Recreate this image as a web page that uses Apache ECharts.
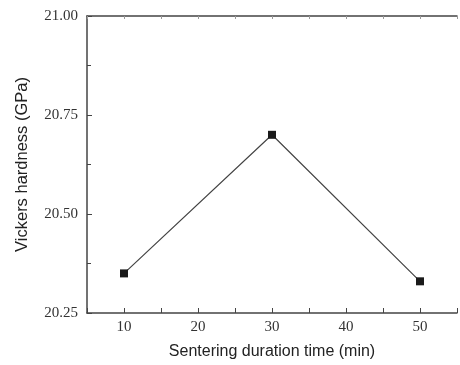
<!DOCTYPE html>
<html>
<head>
<meta charset="utf-8">
<script src="https://cdn.jsdelivr.net/npm/echarts@6/dist/echarts.min.js"></script>
<style>
  html, body { margin: 0; padding: 0; background: #fff; }
  #chart { width: 460px; height: 365px; }
</style>
</head>
<body>
<div id="chart"></div>
<script>
const times = [10, 30, 50];
const hardness = [20.35, 20.70, 20.33];
const xTicks = [10, 20, 30, 40, 50];
const yTicks = [20.25, 20.5, 20.75, 21.0];

const chart = echarts.init(document.getElementById('chart'));
const axisColor = '#444';
const serif = '"Liberation Serif", "DejaVu Serif", serif';
const sans = '"Liberation Sans", Arial, sans-serif';

chart.setOption({
  animation: false,
  grid: { left: 87, right: -4, top: 16, bottom: 51 },
  xAxis: [
    {
      type: 'value',
      min: 5,
      max: 55,
      interval: 5,
      name: 'Sentering duration time (min)',
      nameLocation: 'middle',
      nameGap: 31,
      nameTextStyle: { fontFamily: sans, fontSize: 16, color: '#222' },
      axisLine: { lineStyle: { color: axisColor, width: 1.5 } },
      axisTick: { inside: true, length: 5, lineStyle: { color: axisColor } },
      axisLabel: {
        margin: 7,
        fontFamily: serif,
        fontSize: 15,
        color: '#333',
        formatter: v => (xTicks.indexOf(v) >= 0 ? String(v) : '')
      },
      splitLine: { show: false }
    },
    {
      type: 'value',
      position: 'top',
      min: 5,
      max: 55,
      interval: 5,
      axisLine: { lineStyle: { color: axisColor, width: 1.5 } },
      axisTick: { inside: true, length: 3, lineStyle: { color: '#999' } },
      axisLabel: { show: false },
      splitLine: { show: false }
    }
  ],
  yAxis: {
    type: 'value',
    min: 20.25,
    max: 21.0,
    interval: 0.25,
    name: 'Vickers hardness (GPa)',
    nameLocation: 'middle',
    nameGap: 56,
    nameTextStyle: { fontFamily: sans, fontSize: 16.5, color: '#222' },
    axisLine: { show: true, lineStyle: { color: axisColor, width: 1.5 } },
    axisTick: { inside: true, length: 5, lineStyle: { color: axisColor } },
    minorTick: { show: true, splitNumber: 2, length: 4, lineStyle: { color: axisColor } },
    axisLabel: {
      margin: 9,
      fontFamily: serif,
      fontSize: 15,
      color: '#333',
      formatter: v => yTicks.find(t => Math.abs(t - v) < 1e-6).toFixed(2)
    },
    splitLine: { show: false }
  },
  series: [
    {
      type: 'line',
      data: times.map((t, i) => [t, hardness[i]]),
      symbol: 'rect',
      symbolSize: 8,
      itemStyle: { color: '#1a1a1a' },
      lineStyle: { color: '#444', width: 1.2 }
    }
  ]
});
</script>
</body>
</html>
